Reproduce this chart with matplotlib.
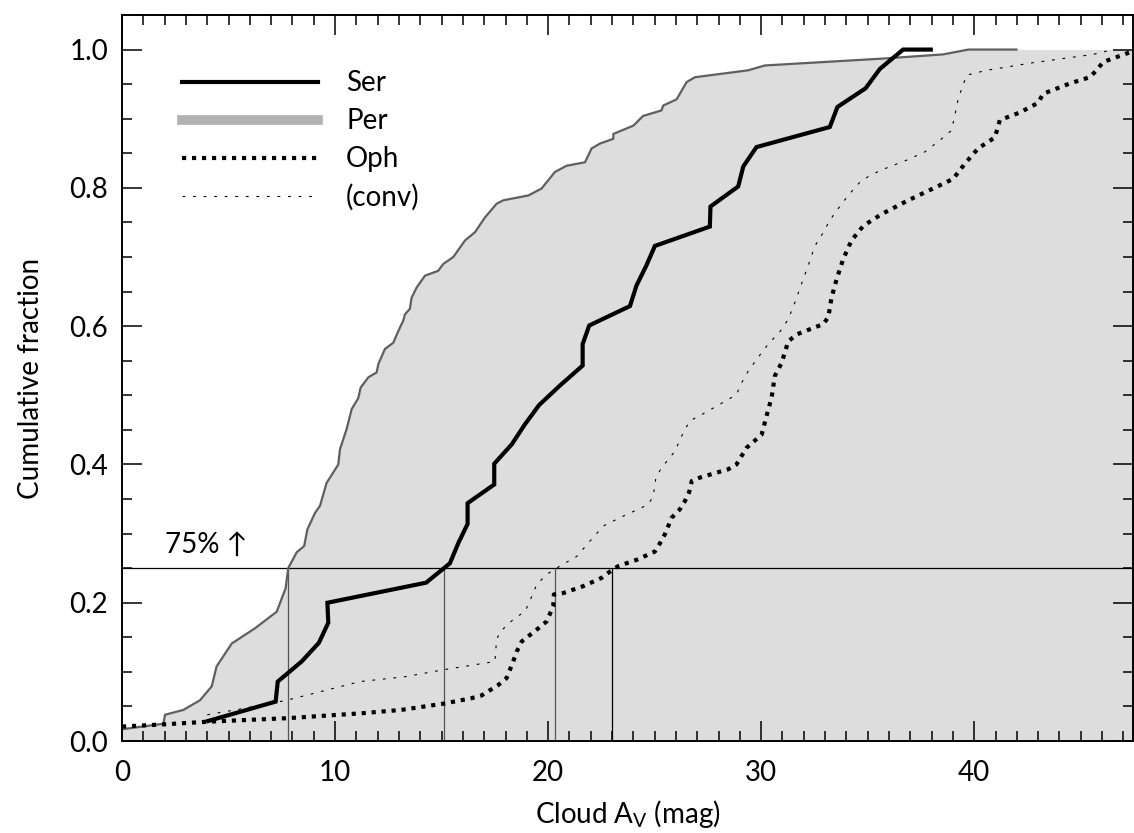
import matplotlib
matplotlib.use("Agg")
import matplotlib.pyplot as plt
from matplotlib.lines import Line2D
import numpy as np

# Cumulative distributions of cloud extinction at the YSO positions
ser_av = [4.04, 7.21, 7.31, 8.43, 9.24, 9.68, 9.64, 14.27, 15.39, 15.78, 16.22, 16.22,
          17.47, 17.47, 18.29, 18.91, 19.58, 20.55, 21.62, 21.62, 21.93, 23.84, 24.15,
          24.6, 25.01, 27.59, 27.62, 28.92, 29.16, 29.78, 33.22, 33.58, 34.9, 35.57,
          36.66, 37.96]
ser_frac = [0.029, 0.057, 0.086, 0.115, 0.142, 0.171, 0.200, 0.229, 0.257, 0.286, 0.314,
            0.344, 0.371, 0.401, 0.429, 0.458, 0.486, 0.514, 0.543, 0.574, 0.601, 0.629,
            0.659, 0.687, 0.716, 0.744, 0.773, 0.802, 0.831, 0.859, 0.888, 0.917, 0.944,
            0.972, 1.0, 1.0]

per_av = [0.0, 1.94, 2.02, 2.88, 3.66, 4.21, 4.44, 5.15, 6.24, 7.26, 7.68, 7.80, 8.2,
          8.55, 8.7, 9.06, 9.29, 9.6, 10.15, 10.23, 10.54, 10.78, 11.09, 11.2, 11.56,
          11.95, 12.03, 12.34, 12.73, 12.97, 13.2, 13.28, 13.51, 13.59, 13.83, 14.22,
          14.84, 15.08, 15.55, 16.1, 16.57, 17.03, 17.58, 17.89, 19.07, 19.69, 20.32,
          20.87, 21.73, 22.04, 22.43, 23.06, 23.06, 24.0, 24.46, 25.32, 25.40, 26.03,
          26.5, 26.89, 29.39, 30.17, 35.73, 38.54, 39.72, 41.98]
per_frac = [0.017, 0.025, 0.038, 0.045, 0.059, 0.079, 0.108, 0.141, 0.163, 0.187, 0.221,
            0.250, 0.273, 0.282, 0.306, 0.330, 0.340, 0.373, 0.400, 0.422, 0.451, 0.480,
            0.496, 0.511, 0.526, 0.533, 0.545, 0.567, 0.576, 0.593, 0.608, 0.617, 0.625,
            0.641, 0.656, 0.673, 0.680, 0.690, 0.700, 0.724, 0.736, 0.757, 0.777, 0.782,
            0.789, 0.799, 0.823, 0.832, 0.837, 0.857, 0.864, 0.871, 0.878, 0.890, 0.904,
            0.912, 0.919, 0.928, 0.953, 0.960, 0.970, 0.977, 0.987, 0.993, 1.0, 1.0]

oph_av = [0.0, 1.9, 4.05, 7.73, 11.17, 13.1, 15.08, 16.41, 16.88, 17.66, 18.05, 18.36,
          18.52, 18.76, 19.46, 19.93, 20.24, 20.27, 20.71, 21.65, 22.51, 22.9, 23.29,
          24.15, 25.01, 25.25, 25.48, 25.8, 26.18, 26.42, 26.62, 26.74, 27.12, 28.45,
          28.84, 29.31, 30.02, 30.25, 30.49, 30.64, 30.96, 31.27, 31.66, 32.91, 33.15,
          33.3, 33.54, 33.85, 34.24, 34.79, 35.65, 36.9, 38.54, 39.01, 39.56, 40.18,
          40.97, 41.2, 42.14, 43.0, 43.23, 44.49, 45.42, 45.74, 46.05, 47.3, 47.6]
oph_frac = [0.021, 0.024, 0.028, 0.033, 0.040, 0.045, 0.054, 0.062, 0.066, 0.081, 0.091,
            0.115, 0.129, 0.144, 0.161, 0.173, 0.195, 0.212, 0.214, 0.224, 0.236, 0.245,
            0.253, 0.262, 0.274, 0.286, 0.299, 0.323, 0.335, 0.347, 0.360, 0.376, 0.381,
            0.393, 0.400, 0.424, 0.443, 0.470, 0.497, 0.528, 0.547, 0.578, 0.588, 0.603,
            0.613, 0.641, 0.668, 0.697, 0.724, 0.745, 0.762, 0.782, 0.806, 0.813, 0.835,
            0.857, 0.873, 0.898, 0.909, 0.923, 0.936, 0.951, 0.960, 0.970, 0.982, 0.996,
            1.0]

# Oph convolved to the Serpens resolution
conv_av = [4.0, 5.5, 7.73, 11.17, 13.28, 15.08, 17.5, 17.58, 17.74, 18.44, 18.91, 19.23,
           19.46, 19.93, 20.55, 21.34, 21.96, 22.59, 23.37, 24.70, 24.93, 25.06, 25.32,
           25.95, 26.34, 26.65, 27.2, 28.06, 28.84, 29.08, 29.39, 29.86, 30.33, 30.88,
           31.27, 31.58, 31.89, 32.2, 32.52, 32.83, 33.22, 33.54, 34.08, 34.71, 35.57,
           36.82, 37.68, 38.39, 38.93, 39.09, 39.25, 39.64, 40.58, 42.76, 45.58, 46.52]
conv_frac = [0.038, 0.046, 0.059, 0.086, 0.093, 0.103, 0.115, 0.146, 0.158, 0.178, 0.187,
             0.209, 0.226, 0.241, 0.253, 0.267, 0.289, 0.311, 0.323, 0.342, 0.354, 0.381,
             0.395, 0.419, 0.446, 0.463, 0.472, 0.487, 0.501, 0.518, 0.535, 0.555, 0.574,
             0.592, 0.610, 0.634, 0.661, 0.687, 0.716, 0.731, 0.753, 0.767, 0.789, 0.811,
             0.825, 0.840, 0.852, 0.869, 0.883, 0.905, 0.929, 0.963, 0.970, 0.981, 0.993,
             1.0]

# A_V where each curve passes the 25% level (Per, Ser, conv, Oph)
av_quartile = [7.8, 15.1, 20.3, 23.0]
quartile_colors = ['#555555', '#555555', '#555555', 'black']
quartile_level = 0.25

legend_labels = ['Ser', 'Per', 'Oph', '(conv)']

plt.rcParams['font.family'] = ['Lato', 'DejaVu Sans']
plt.rcParams['mathtext.default'] = 'regular'

fig = plt.figure(figsize=(11.34, 8.33), dpi=100)
ax = fig.add_axes([0.1076, 0.1104, 0.8915, 0.8716])
ax.set_xlim(0, 47.45)
ax.set_ylim(0, 1.05)
xmax = ax.get_xlim()[1]

# Per region shaded from its curve out to the right edge
ax.fill_betweenx([0.0] + per_frac, [0.0] + per_av, xmax, color='#dddddd', lw=0, zorder=1)
ax.plot(per_av, per_frac, color='#5f5f5f', lw=1.6, zorder=3)

ax.axhline(quartile_level, color='black', lw=0.9, zorder=2)
ax.vlines(av_quartile, 0, quartile_level, colors=quartile_colors, lw=0.9, zorder=2)

ax.plot(conv_av, conv_frac, color='black', lw=0.8, dashes=(2.5, 7), zorder=4)
ax.plot(oph_av, oph_frac, color='black', lw=3, dashes=(1, 1.4),
        dash_capstyle='butt', zorder=4)
ax.plot(ser_av, ser_frac, color='black', lw=3, solid_joinstyle='miter', zorder=5)

ax.text(2.0, 0.284, '75% \u2191', fontsize=20, va='center', ha='left')

handles = [
    Line2D([], [], color='black', lw=3),
    Line2D([], [], color='#b2b2b2', lw=7),
    Line2D([], [], color='black', lw=3, dashes=(1, 1.4), dash_capstyle='butt'),
    Line2D([], [], color='black', lw=0.8, dashes=(2.5, 7)),
]
ax.legend(handles, legend_labels, loc='upper left', bbox_to_anchor=(0.0485, 0.939),
          frameon=False, fontsize=20, handlelength=4.9, handletextpad=1.0,
          labelspacing=0.43, borderaxespad=0)

ax.set_xlabel('Cloud A$_V$ (mag)', fontsize=20, labelpad=8)
ax.set_ylabel('Cumulative fraction', fontsize=20, labelpad=18)

ax.set_xticks([0, 10, 20, 30, 40])
ax.set_xticks(np.arange(0, 48, 1), minor=True)
ax.set_yticks([0.0, 0.2, 0.4, 0.6, 0.8, 1.0])
ax.set_yticklabels(['0.0', '0.2', '0.4', '0.6', '0.8', '1.0'])
ax.set_yticks(np.arange(0, 1.05, 0.05), minor=True)
ax.tick_params(which='both', direction='in', top=True, right=True, labelsize=20,
               width=1.1, color='black')
ax.tick_params(which='major', length=14.4)
ax.tick_params(which='minor', length=7.2)
ax.tick_params(axis='x', pad=14)
ax.tick_params(axis='y', pad=10)
for spine in ax.spines.values():
    spine.set_linewidth(1.4)
    spine.set_zorder(6)

fig.savefig('out.png', dpi=100)
plt.close(fig)
